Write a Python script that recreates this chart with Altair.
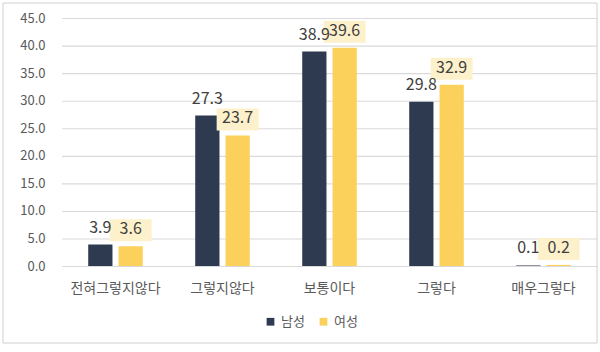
import altair as alt
import pandas as pd

categories = ["전혀그렇지않다", "그렇지않다", "보통이다", "그렇다", "매우그렇다"]
genders = ["남성", "여성"]
male = [3.9, 27.3, 38.9, 29.8, 0.1]
female = [3.6, 23.7, 39.6, 32.9, 0.2]
y_ticks = [0, 5, 10, 15, 20, 25, 30, 35, 40, 45]

rows = []
for c, m, f in zip(categories, male, female):
    rows.append({"category": c, "gender": "남성", "value": m})
    rows.append({"category": c, "gender": "여성", "value": f})
df = pd.DataFrame(rows)
grid_df = pd.DataFrame({"tick": y_ticks})

FONT = "Noto Sans CJK KR"
colors = ["#2E3A50", "#FCD15B"]

x_enc = alt.X("category:N", sort=categories, title=None,
              scale=alt.Scale(paddingInner=0.49, paddingOuter=0.245),
              axis=alt.Axis(labelAngle=0, ticks=False, domainColor="#D9D9D9", grid=False,
                            labelFontSize=14, labelColor="#595959", labelPadding=15,
                            labelFont=FONT))
xoff = alt.XOffset("gender:N", sort=genders,
                   scale=alt.Scale(paddingInner=0.2, paddingOuter=0))

y_scale = alt.Scale(domain=[0, 45], nice=False, zero=True)
y_axis = alt.Axis(values=y_ticks, format=".1f", domain=False, ticks=False,
                  grid=False,
                  labelColor="#595959", labelFontSize=13,
                  labelPadding=17, labelFont=FONT, labelOverlap=False, title=None)

gridlines = alt.Chart(grid_df).transform_calculate(
    tick_hi="datum.tick - 0.2"
).mark_rect(color="#DADADA").encode(
    y=alt.Y("tick:Q", scale=y_scale, axis=y_axis),
    y2="tick_hi:Q",
)

base = alt.Chart(df)

bars = base.mark_bar().encode(
    x=x_enc,
    xOffset=xoff,
    y=alt.Y("value:Q", title=None, scale=y_scale, axis=y_axis),
    color=alt.Color("gender:N", sort=genders, title=None,
                    scale=alt.Scale(domain=genders, range=colors),
                    legend=alt.Legend(orient="none", legendX=202, legendY=297,
                                      direction="horizontal", symbolType="square",
                                      symbolSize=60, labelFontSize=13, labelColor="#595959",
                                      labelFont=FONT, columnPadding=12, symbolStrokeWidth=0)),
)

label_box = base.transform_filter(alt.datum.gender == "여성").transform_calculate(
    lo="datum.value + 0.9", hi="datum.value + 4.9"
).mark_bar(width=42, color="#FDF1CC").encode(
    x=x_enc, xOffset=xoff,
    y=alt.Y("lo:Q", scale=y_scale, axis=y_axis), y2="hi:Q"
)

labels = base.mark_text(dy=-17, fontSize=16, color="#404040", font=FONT).encode(
    x=x_enc, xOffset=xoff,
    y=alt.Y("value:Q", scale=y_scale, axis=y_axis),
    text=alt.Text("value:Q", format=".1f")
)

border = base.mark_rect(fill="white", fillOpacity=0, stroke="#D0D0D0", strokeWidth=1).encode(
    x=alt.value(-59), x2=alt.value(535), y=alt.value(-15), y2=alt.value(325)
).transform_filter(alt.datum.category == categories[0]).transform_filter(alt.datum.gender == "남성")

chart = alt.layer(gridlines, bars, label_box, labels, border).properties(
    width=535, height=248,
    padding={"left": 62, "top": 18, "right": 3, "bottom": 86},
    autosize=alt.AutoSizeParams(type="none"),
    background="white",
).configure_view(strokeWidth=0)

chart.save("out.html", embed_options={"renderer": "svg", "actions": False})
